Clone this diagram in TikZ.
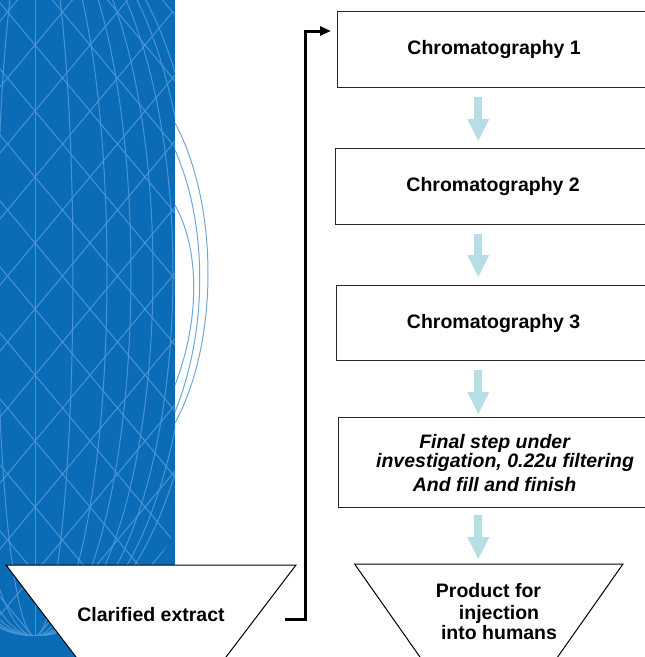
\documentclass[tikz,border=0pt]{standalone}
\usepackage{fontspec}
\setmainfont{Liberation Sans}
\usetikzlibrary{arrows.meta}
\definecolor{bgblue}{RGB}{10,108,183}
\definecolor{meshblue}{RGB}{72,148,212}
\definecolor{arcblue}{RGB}{110,168,215}
\definecolor{flowcyan}{RGB}{182,222,228}
\begin{document}
\begin{tikzpicture}[x=1pt,y=-1pt,
  stepbox/.style={draw=black!85, line width=1.2pt, fill=white, inner sep=0pt,
    anchor=north west, font=\fontsize{19.5}{22}\selectfont\bfseries},
  funnel/.style={draw=black, line width=1pt, fill=white},
  labeltext/.style={inner sep=0pt, font=\fontsize{19.5}{22}\selectfont\bfseries},
  flowline/.style={draw=flowcyan, line width=8pt,
    -{Triangle[length=22pt,width=22pt,line width=0pt]}},
  link/.style={line width=3pt, -{Triangle[length=11pt,width=9pt]}},
  mesh/.style={meshblue, line width=1pt}]

\useasboundingbox (0,0) rectangle (645,657);
\clip (0,0) rectangle (645,657);

% ---------- blue panel with globe ----------
\fill[bgblue] (0,0) rectangle (175,657);
\begin{scope}
  \clip (0,0) rectangle (175,657);
  \clip (35,273) ellipse [x radius=200, y radius=363];
  \draw[mesh] (35,-100) -- (35,700);
  \foreach \a in {38,72,96,118,138,155,168}
    \draw[mesh] (35,273) ellipse [x radius=\a, y radius=363];
  \foreach \k in {-9,...,12} {
    \draw[mesh] (-10,{45+66*\k-54}) -- (190,{45+66*\k+186});
    \draw[mesh] (-10,{45+66*\k+54}) -- (190,{45+66*\k-186});
  }
\end{scope}
% arcs of the globe outside the panel
\draw[arcblue, line width=1pt] (175,123) .. controls (219,205) and (219,342) .. (175,423);
\draw[arcblue, line width=1pt] (175,150) .. controls (208,225) and (208,330) .. (175,412);
\draw[arcblue, line width=1pt] (175,205) .. controls (200,250) and (200,320) .. (175,385);

% ---------- process boxes ----------
\node[stepbox, minimum width=313pt, minimum height=76pt] (c1) at (337,11) {Chromatography 1};
\node[stepbox, minimum width=315pt, minimum height=76pt] (c2) at (335,148) {Chromatography 2};
\node[stepbox, minimum width=314pt, minimum height=75pt] (c3) at (336,285) {Chromatography 3};
\node[stepbox, minimum width=312pt, minimum height=90pt, align=center,
      font=\fontsize{19.5}{22}\selectfont\bfseries\itshape] (c4) at (338,417)
  {Final step under\\[-3pt]\hspace*{21pt}investigation, 0.22u filtering\\[2pt]And fill and finish};

% ---------- funnels ----------
\draw[funnel] (6,565) -- (296,565) -- (193.3,700) -- (108.7,700) -- cycle;
\node[labeltext, anchor=base] (clar) at (151,621) {Clarified extract};

\draw[funnel] (354.6,564) -- (623,564) -- (527.4,700) -- (450.2,700) -- cycle;
\node[labeltext, anchor=north, align=center] (prod) at (499,582.8)
  {Product for\hspace*{21pt}\\injection\\[-2pt]into humans};

% ---------- connectors ----------
\coordinate (ax) at (478.3,0);
\coordinate (prodtop) at (478.3,564);
\draw[flowline, shorten <=9pt, shorten >=7pt] (c1.south -| ax) -- (c2.north -| ax);
\draw[flowline, shorten <=8.5pt, shorten >=8pt] (c2.south -| ax) -- (c3.north -| ax);
\draw[flowline, shorten <=9pt, shorten >=3pt] (c3.south -| ax) -- (c4.north -| ax);
\draw[flowline, shorten <=7pt, shorten >=5pt] (c4.south -| ax) -- (prodtop);

\coordinate (ls) at (285,619);
\coordinate (lc) at (305,31);
\coordinate (le) at (331,31);
\draw[link] (ls) -| (lc) -- (le);
\end{tikzpicture}
\end{document}
